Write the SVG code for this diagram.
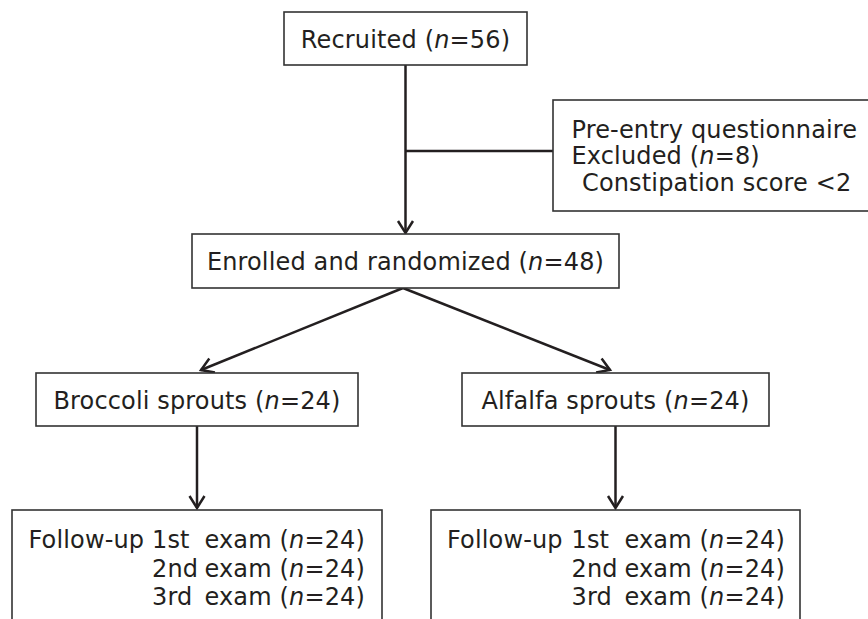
<svg xmlns="http://www.w3.org/2000/svg" width="868" height="619" viewBox="0 0 868 619">
<style>
.box{fill:#fff;stroke:#333;stroke-width:1.6}
.t{font-family:"DejaVu Sans",Verdana,sans-serif;font-size:24px;letter-spacing:0.15px;fill:#231f20}
.c{text-anchor:middle}
.e{text-anchor:end}
.i{font-style:italic}
.ln{fill:none;stroke:#231f20;stroke-width:2.5}
</style>
<defs>
<marker id="arr" markerUnits="userSpaceOnUse" markerWidth="30" markerHeight="30" viewBox="-15 -15 30 30" refX="0" refY="0" orient="auto">
<path d="M-12,-7.5 L0,0 L-12,7.5" fill="none" stroke="#231f20" stroke-width="2.5"/>
</marker>
</defs>
<rect width="868" height="619" fill="#fff"/>
<g id="connectors">
<line class="ln" x1="405.5" y1="65" x2="405.5" y2="233" marker-end="url(#arr)"/>
<line class="ln" x1="405.5" y1="151" x2="553" y2="151"/>
<line class="ln" x1="403" y1="288" x2="201" y2="370" marker-end="url(#arr)"/>
<line class="ln" x1="403" y1="288" x2="610" y2="370" marker-end="url(#arr)"/>
<line class="ln" x1="197" y1="426" x2="197" y2="508" marker-end="url(#arr)"/>
<line class="ln" x1="615.5" y1="426" x2="615.5" y2="508" marker-end="url(#arr)"/>
</g>
<g id="recruited">
<rect class="box" x="284" y="12" width="243" height="53"/>
<text class="t c" x="405.5" y="48">Recruited (<tspan class="i">n</tspan>=56)</text>
</g>
<g id="excluded">
<rect class="box" x="553" y="100" width="330" height="111"/>
<text class="t" x="571.5" y="138">Pre-entry questionnaire</text>
<text class="t" x="571.5" y="164">Excluded (<tspan class="i">n</tspan>=8)</text>
<text class="t" x="582" y="191">Constipation score &lt;2</text>
</g>
<g id="enrolled">
<rect class="box" x="192" y="234" width="427" height="54"/>
<text class="t c" x="405.5" y="270">Enrolled and randomized (<tspan class="i">n</tspan>=48)</text>
</g>
<g id="broccoli">
<rect class="box" x="36" y="373" width="322" height="53"/>
<text class="t c" x="197" y="409">Broccoli sprouts (<tspan class="i">n</tspan>=24)</text>
</g>
<g id="alfalfa">
<rect class="box" x="462" y="373" width="307" height="53"/>
<text class="t c" x="615.5" y="409">Alfalfa sprouts (<tspan class="i">n</tspan>=24)</text>
</g>
<g id="followup-broccoli">
<rect class="box" x="12" y="510" width="370" height="120"/>
<text class="t" x="28.5" y="548">Follow-up</text>
<text class="t" x="152" y="548">1st</text>
<text class="t e" x="365" y="548">exam (<tspan class="i">n</tspan>=24)</text>
<text class="t" x="152" y="577">2nd</text>
<text class="t e" x="365" y="577">exam (<tspan class="i">n</tspan>=24)</text>
<text class="t" x="152" y="605">3rd</text>
<text class="t e" x="365" y="605">exam (<tspan class="i">n</tspan>=24)</text>
</g>
<g id="followup-alfalfa">
<rect class="box" x="431" y="510" width="369" height="120"/>
<text class="t" x="447" y="548">Follow-up</text>
<text class="t" x="571.5" y="548">1st</text>
<text class="t e" x="785" y="548">exam (<tspan class="i">n</tspan>=24)</text>
<text class="t" x="571.5" y="577">2nd</text>
<text class="t e" x="785" y="577">exam (<tspan class="i">n</tspan>=24)</text>
<text class="t" x="571.5" y="605">3rd</text>
<text class="t e" x="785" y="605">exam (<tspan class="i">n</tspan>=24)</text>
</g>
</svg>
